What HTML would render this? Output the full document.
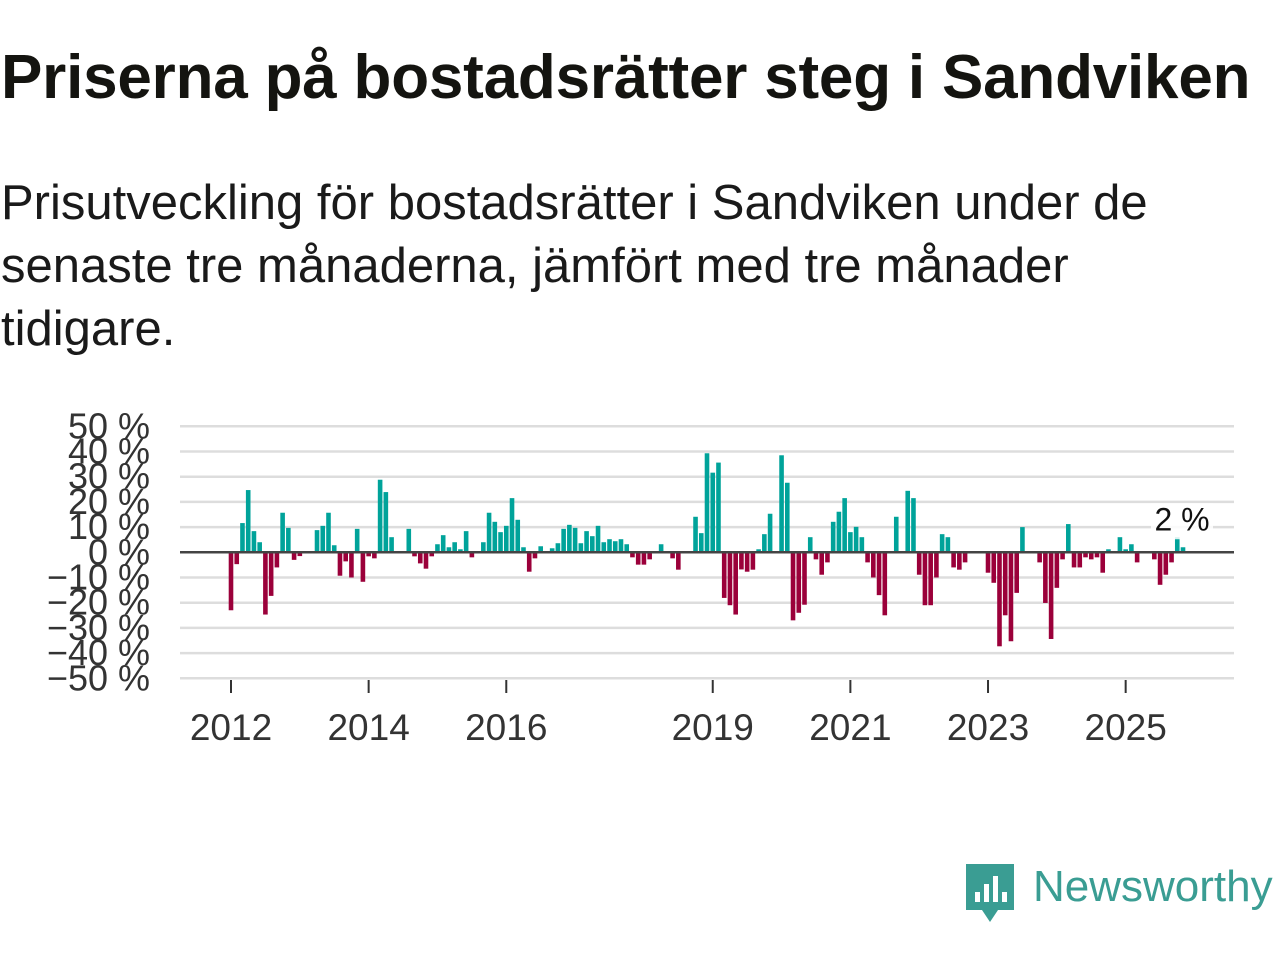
<!DOCTYPE html>
<html><head><meta charset="utf-8"><style>
body{margin:0;background:#fff;width:1280px;height:960px;overflow:hidden;font-family:"Liberation Sans","DejaVu Sans",sans-serif}
#title{position:absolute;left:1px;top:47px;font-size:62px;line-height:62px;font-weight:bold;color:#141410;white-space:nowrap;letter-spacing:-0.2px}
#sub{position:absolute;left:1px;top:172px;font-size:49px;line-height:63px;color:#1a1a1a;width:1270px;white-space:nowrap}
svg{position:absolute;left:0;top:0}
#logo{position:absolute;left:964px;top:862px}
#logotext{position:absolute;left:1033px;top:862px;font-size:44px;color:#3a9d93;font-weight:500}
</style></head><body>
<div id="title">Priserna på bostadsrätter steg i Sandviken</div>
<div id="sub">Prisutveckling för bostadsrätter i Sandviken under de<br>senaste tre månaderna, jämfört med tre månader<br>tidigare.</div>
<svg id="chart" width="1280" height="960"></svg>
<svg id="logo" width="52" height="64" viewBox="0 0 52 64">
<path d="M2 2h48v46H34l-8 12-8-12H2z" fill="#3a9d93"/>
<rect x="11" y="30" width="5" height="10" fill="#fff"/><rect x="20" y="22" width="5" height="18" fill="#fff"/><rect x="29" y="14" width="5" height="26" fill="#fff"/><rect x="38" y="30" width="5" height="10" fill="#fff"/>
</svg>
<div id="logotext">Newsworthy</div>
<script>
const values=[-23,-4.7,11.6,24.7,8.4,4,-24.7,-17.3,-6,15.7,9.7,-3,-1.5,0,0,8.8,10.5,15.7,2.8,-9.3,-3.6,-10,9.3,-11.7,-1.6,-2.4,28.8,23.9,6,0,0,9.3,-1.6,-4.4,-6.5,-1.6,3.2,6.8,2,4,1.2,8.4,-2,0,4,15.7,12.1,8,10.5,21.5,12.9,2,-7.7,-2.4,2.4,0,1.6,3.6,9.3,10.9,9.7,3.6,8.4,6.4,10.5,4,5.2,4.4,5.2,3.2,-2,-4.9,-4.9,-2.8,0,3.2,0,-2.4,-6.9,0,0,14.1,7.6,39.3,31.6,35.6,-18.1,-21,-24.7,-6.8,-7.7,-6.9,1.2,7.2,15.3,0,38.5,27.6,-27,-24,-20.8,6,-2.8,-8.9,-4,12.1,16.1,21.5,8,10.1,6,-4,-10,-17,-25,0,14.1,0,24.4,21.5,-8.9,-21,-21,-10,7.2,6,-6,-6.9,-4,0,0,0,-8.1,-12.1,-37.3,-25,-35.3,-16.1,10,0,0,-4,-20.1,-34.4,-14.1,-2.8,11.2,-6,-6,-2,-2.8,-2,-8.1,1.2,0,6,1.2,3.2,-4,0,0,-2.8,-12.9,-8.9,-4,6,2];
const yTicks=[50,40,30,20,10,0,-10,-20,-30,-40,-50];
const yTickLabels=["50 %","40 %","30 %","20 %","10 %","0 %","−10 %","−20 %","−30 %","−40 %","−50 %"];
const xTickYears=[2012,2014,2016,2019,2021,2023,2025];
const lastLabel="2 %";
const NS="http://www.w3.org/2000/svg";
const svg=document.getElementById('chart');
const y=v=>552.3-v*2.52;
const xm=i=>231+i*5.735;
const xYear=yr=>xm((yr-2012)*12);
function el(t,a,p){const e=document.createElementNS(NS,t);for(const k in a)e.setAttribute(k,a[k]);(p||svg).appendChild(e);return e;}
yTicks.forEach((t,i)=>{
  if(t!==0){const g=el('line',{x1:180,x2:1234,y1:y(t),y2:y(t),stroke:'#ddd','stroke-width':2.5});
  
  }
  const tx=el('text',{x:150,y:y(t)+12,'text-anchor':'end','font-size':36,fill:'#333'});
  tx.textContent=yTickLabels[i];
  
  
});
values.forEach((v,i)=>{
  const r=el('rect',{x:xm(i)-2.3,width:4.6,y:v>=0?y(v):y(0),height:Math.abs(y(v)-y(0)),fill:v>=0?'#00a39a':'#9b003a'});
  
  
});
const zl=el('line',{x1:180,x2:1234,y1:y(0),y2:y(0),stroke:'#444','stroke-width':2.5});


xTickYears.forEach(yr=>{
  const x=xYear(yr);
  const tk=el('line',{x1:x,x2:x,y1:680,y2:693,stroke:'#333','stroke-width':2});
  
  
  const tx=el('text',{x:x,y:740,'text-anchor':'middle','font-size':37,fill:'#333'});
  tx.textContent=yr;
  
  
});
const li=values.length-1;
const bg=el('rect',{x:xm(li)-32,y:y(values[li])-44,width:62,height:36,fill:'#fff',opacity:0.85});


const lt=el('text',{x:xm(li)-1,y:y(values[li])-17,'text-anchor':'middle','font-size':32,fill:'#111'});
lt.textContent=lastLabel;


</script>
</body></html>
